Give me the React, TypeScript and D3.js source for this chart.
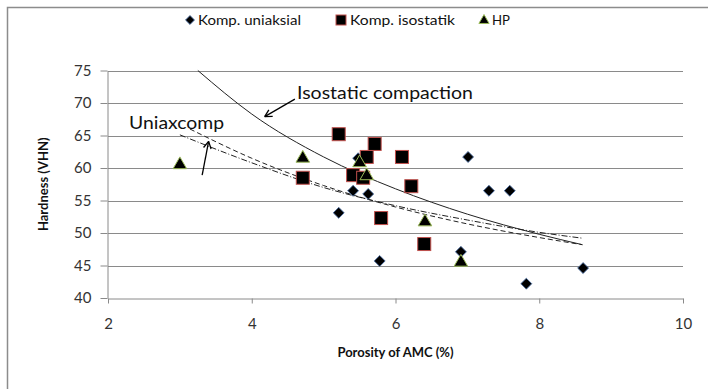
import { useEffect, useRef } from "react";
import * as d3 from "d3";

const X_TICKS = [2, 4, 6, 8, 10];
const Y_TICKS = [40, 45, 50, 55, 60, 65, 70, 75];

// Komp. uniaksial (diamonds)
const UNI_X = [5.21, 5.41, 5.48, 5.62, 5.78, 6.91, 7.01, 7.3, 7.59, 7.82, 8.61];
const UNI_Y = [53.1, 56.5, 61.5, 56.0, 45.7, 47.1, 61.7, 56.5, 56.5, 42.2, 44.6];

// Komp. isostatik (squares)
const ISO_X = [4.71, 5.21, 5.41, 5.55, 5.6, 5.71, 5.8, 6.09, 6.22, 6.4];
const ISO_Y = [58.5, 65.2, 58.9, 58.5, 61.7, 63.7, 52.3, 61.7, 57.2, 48.3];

// HP (triangles)
const HP_X = [3.0, 4.71, 5.5, 5.6, 6.41, 6.91];
const HP_Y = [60.5, 61.5, 60.8, 58.8, 51.7, 45.5];

// trend curves
const ISO_FIT_X = [3.25, 4, 5, 6, 7, 8, 8.6];
const ISO_FIT_Y = [75, 68.3, 61.7, 56.8, 52.9, 49.8, 48.2];
const UNI_FIT_X = [3.14, 4, 5, 6, 7, 8, 8.6];
const UNI_FIT_Y = [66, 61.5, 57.3, 54.0, 51.4, 49.3, 48.2];
const HP_FIT_X = [3.0, 4, 5, 6, 7, 8, 8.6];
const HP_FIT_Y = [65.1, 60.8, 57.0, 54.2, 52.0, 50.1, 49.2];

const FONT = "Lato, 'Open Sans', sans-serif";

export default function App() {
  const svgRef = useRef<SVGSVGElement>(null);

  useEffect(() => {
    const width = 708;
    const height = 389;
    const margin = { top: 70.5, right: 25, bottom: 91, left: 108 };

    const svg = d3.select(svgRef.current);
    svg.selectAll("*").remove();

    const x = d3
      .scaleLinear()
      .domain([2, 10])
      .range([margin.left, width - margin.right]);
    const y = d3
      .scaleLinear()
      .domain([40, 75])
      .range([height - margin.bottom, margin.top]);

    svg
      .append("rect")
      .attr("width", width)
      .attr("height", height)
      .attr("fill", "#fff");

    svg
      .append("rect")
      .attr("x", 7.5)
      .attr("y", 7.5)
      .attr("width", 720)
      .attr("height", 400)
      .attr("fill", "none")
      .attr("stroke", "#8c8c8c")
      .attr("stroke-width", 1.5);

    // gridlines
    svg
      .append("g")
      .selectAll("line")
      .data(Y_TICKS.filter((t) => t > 40))
      .join("line")
      .attr("x1", x(2))
      .attr("x2", x(10))
      .attr("y1", (d) => Math.round(y(d)) + 0.5)
      .attr("y2", (d) => Math.round(y(d)) + 0.5)
      .attr("stroke", "#8a8a8a")
      .attr("stroke-width", 1);

    const axisStyle = (g: any) => {
      g.select(".domain").attr("stroke", "#8a8a8a");
      g.selectAll("line").attr("stroke", "#8a8a8a");
      g.selectAll("text")
        .attr("fill", "#333")
        .attr("font-family", FONT)
        .attr("font-size", "15px");
    };

    svg
      .append("g")
      .attr("transform", `translate(0, ${Math.round(y(40)) + 0.5})`)
      .call(
        d3
          .axisBottom(x)
          .tickValues(X_TICKS)
          .tickFormat(d3.format("d"))
          .tickSizeInner(5)
          .tickSizeOuter(0)
          .tickPadding(15),
      )
      .call(axisStyle);

    svg
      .append("g")
      .attr("transform", `translate(${Math.round(x(2)) - 0.5}, 0)`)
      .call(
        d3
          .axisLeft(y)
          .tickValues(Y_TICKS)
          .tickFormat(d3.format("d"))
          .tickSizeInner(7)
          .tickSizeOuter(0)
          .tickPadding(9),
      )
      .call(axisStyle);

    // trend lines
    const line = d3
      .line<[number, number]>()
      .x((d) => x(d[0]))
      .y((d) => y(d[1]))
      .curve(d3.curveMonotoneX);

    const fits = [
      { xs: ISO_FIT_X, ys: ISO_FIT_Y, dash: null },
      { xs: UNI_FIT_X, ys: UNI_FIT_Y, dash: "5,3" },
      { xs: HP_FIT_X, ys: HP_FIT_Y, dash: "6,2,1,2" },
    ];
    fits.forEach((f) => {
      svg
        .append("path")
        .attr("d", line(f.xs.map((v, i) => [v, f.ys[i]] as [number, number])))
        .attr("fill", "none")
        .attr("stroke", "#222")
        .attr("stroke-width", 1)
        .attr("stroke-dasharray", f.dash);
    });

    // markers
    const diamond = d3.symbol().type(d3.symbolSquare).size(60);
    svg
      .append("g")
      .selectAll("path")
      .data(UNI_X.map((v, i) => [v, UNI_Y[i]]))
      .join("path")
      .attr("d", diamond)
      .attr("transform", (d) => `translate(${x(d[0])},${y(d[1])}) rotate(45)`)
      .attr("fill", "#000")
      .attr("stroke", "#4a6fa5")
      .attr("stroke-width", 0.8);

    svg
      .append("g")
      .selectAll("rect")
      .data(ISO_X.map((v, i) => [v, ISO_Y[i]]))
      .join("rect")
      .attr("x", (d) => x(d[0]) - 6.5)
      .attr("y", (d) => y(d[1]) - 6.5)
      .attr("width", 13)
      .attr("height", 13)
      .attr("fill", "#000")
      .attr("stroke", "#c0504d")
      .attr("stroke-width", 1);

    const tri = d3.symbol().type(d3.symbolTriangle).size(80);
    svg
      .append("g")
      .selectAll("path")
      .data(HP_X.map((v, i) => [v, HP_Y[i]]))
      .join("path")
      .attr("d", tri)
      .attr("transform", (d) => `translate(${x(d[0])},${y(d[1])})`)
      .attr("fill", "#000")
      .attr("stroke", "#9bbb59")
      .attr("stroke-width", 1);

    // annotations
    const arrow = (x1: number, y1: number, x2: number, y2: number) => {
      svg
        .append("line")
        .attr("x1", x(x1))
        .attr("y1", y(y1))
        .attr("x2", x(x2))
        .attr("y2", y(y2))
        .attr("stroke", "#000")
        .attr("stroke-width", 1.3);
      const a = Math.atan2(y(y2) - y(y1), x(x2) - x(x1));
      const len = 8;
      [a + Math.PI - 0.5, a + Math.PI + 0.5].forEach((b) => {
        svg
          .append("line")
          .attr("x1", x(x2))
          .attr("y1", y(y2))
          .attr("x2", x(x2) + len * Math.cos(b))
          .attr("y2", y(y2) + len * Math.sin(b))
          .attr("stroke", "#000")
          .attr("stroke-width", 1.3);
      });
    };

    svg
      .append("text")
      .attr("x", 297)
      .attr("y", 99)
      .attr("font-family", FONT)
      .attr("font-size", "18px")
      .attr("fill", "#111")
      .attr("textLength", 176)
      .attr("lengthAdjust", "spacingAndGlyphs")
      .text("Isostatic compaction");
    arrow(4.6, 70.6, 4.18, 67.9);

    svg
      .append("text")
      .attr("x", 129)
      .attr("y", 129)
      .attr("font-family", FONT)
      .attr("font-size", "18px")
      .attr("fill", "#111")
      .attr("textLength", 95)
      .attr("lengthAdjust", "spacingAndGlyphs")
      .text("Uniaxcomp");
    arrow(3.31, 58.9, 3.4, 64.1);

    // axis titles
    svg
      .append("text")
      .attr("x", (x(2) + x(10)) / 2)
      .attr("y", 357)
      .attr("text-anchor", "middle")
      .attr("font-family", FONT)
      .attr("font-weight", "bold")
      .attr("font-size", "13px")
      .attr("fill", "#111")
      .text("Porosity of AMC (%)");

    svg
      .append("text")
      .attr("transform", `translate(48, ${(y(40) + y(75)) / 2}) rotate(-90)`)
      .attr("text-anchor", "middle")
      .attr("font-family", FONT)
      .attr("font-weight", "bold")
      .attr("font-size", "13px")
      .attr("fill", "#111")
      .text("Hardness (VHN)");

    // legend
    const legend = svg.append("g").attr("transform", "translate(0, 20)");
    legend
      .append("path")
      .attr("d", d3.symbol().type(d3.symbolSquare).size(40)())
      .attr("transform", "translate(190,0) rotate(45)")
      .attr("fill", "#000")
      .attr("stroke", "#4a6fa5")
      .attr("stroke-width", 0.8);
    legend
      .append("rect")
      .attr("x", 336)
      .attr("y", -5)
      .attr("width", 10)
      .attr("height", 10)
      .attr("fill", "#000")
      .attr("stroke", "#c0504d");
    legend
      .append("path")
      .attr("d", d3.symbol().type(d3.symbolTriangle).size(45)())
      .attr("transform", "translate(484,0.5)")
      .attr("fill", "#000")
      .attr("stroke", "#9bbb59");
    [
      { tx: 198, label: "Komp. uniaksial", w: 103 },
      { tx: 350, label: "Komp. isostatik", w: 105 },
      { tx: 492, label: "HP", w: 18 },
    ].forEach((l) => {
      legend
        .append("text")
        .attr("x", l.tx)
        .attr("y", 5)
        .attr("font-family", FONT)
        .attr("font-size", "14px")
        .attr("fill", "#111")
        .attr("textLength", l.w)
        .attr("lengthAdjust", "spacingAndGlyphs")
        .text(l.label);
    });
  }, []);

  return (
    <div style={{ position: "fixed", left: 0, top: 0 }}>
      <svg ref={svgRef} width={708} height={389} style={{ display: "block" }} />
    </div>
  );
}
